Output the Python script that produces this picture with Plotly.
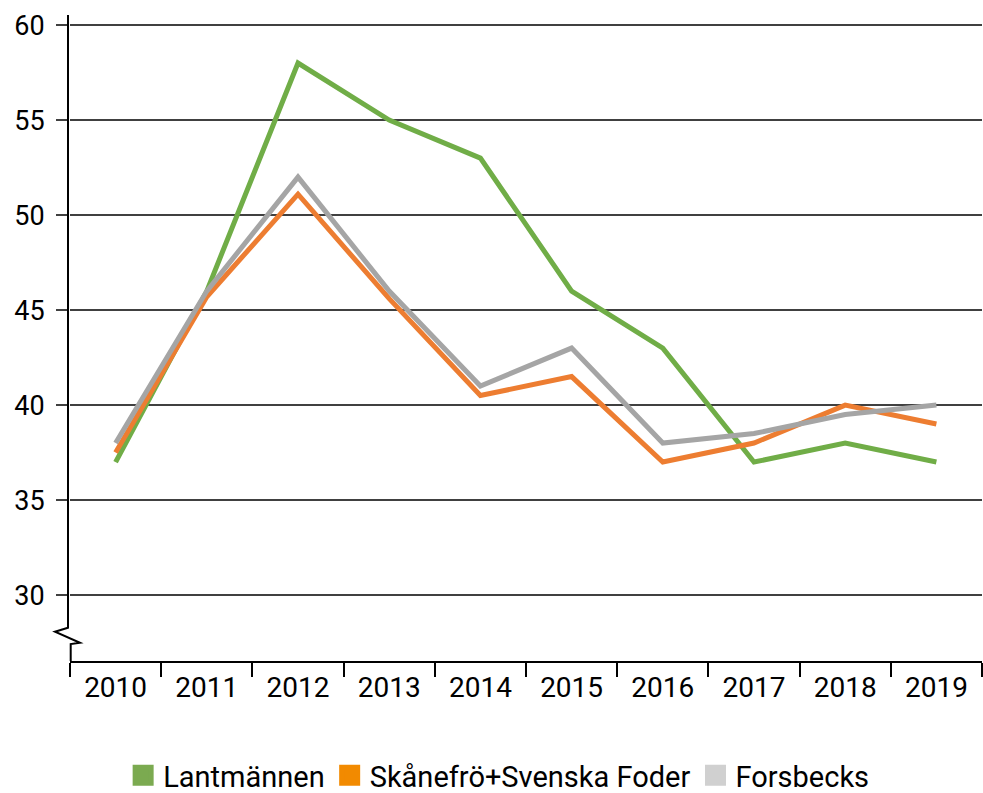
import plotly.graph_objects as go

years = ["2010", "2011", "2012", "2013", "2014", "2015", "2016", "2017", "2018", "2019"]
lantmannen = [37, 46, 58, 55, 53, 46, 43, 37, 38, 37]
skanefro = [37.5, 45.7, 51.1, 45.6, 40.5, 41.5, 37, 38, 40, 39]
forsbecks = [38, 46, 52, 46, 41, 43, 38, 38.5, 39.5, 40]
y_ticks = [30, 35, 40, 45, 50, 55, 60]

names = ["Lantmännen", "Skånefrö+Svenska Foder", "Forsbecks"]
line_colors = ["#70AD47", "#ED7D31", "#A5A5A5"]
legend_colors = ["#7BAA50", "#F28A00", "#D0D0D0"]
series = [lantmannen, skanefro, forsbecks]

FONT = "Roboto"
fig = go.Figure()
for name, vals, col in zip(names, series, line_colors):
    fig.add_trace(go.Scatter(x=years, y=vals, mode="lines", name=name,
                             line=dict(color=col, width=5), showlegend=False,
                             hoverinfo="x+y+name"))
for name, col in zip(names, legend_colors):
    fig.add_trace(go.Scatter(x=[None], y=[None], mode="markers", name=name,
                             marker=dict(symbol="square", size=16, color=col,
                                         line=dict(color=col, width=5))))

W, H = 983, 793
L, R, T, B = 70, 1, 15, 132
pw = W - L - R
ymin, ymax = 26.53, 60.53

def px_x(p):
    return (p - L) / pw

# y-axis line with break zigzag
path = (f"M {px_x(68)},{ymax} L {px_x(68)},28.28 L {px_x(55)},28.07 "
        f"L {px_x(80)},27.49 L {px_x(70.7)},27.42 L {px_x(70.7)},{ymin}")
fig.add_shape(type="path", path=path, xref="paper", yref="y",
              line=dict(color="#000000", width=2), layer="above")

fig.update_layout(
    width=W, height=H,
    margin=dict(l=L, r=R, t=T, b=B, autoexpand=False),
    paper_bgcolor="white", plot_bgcolor="white",
    font=dict(family=FONT, size=28, color="#000000"),
    showlegend=True,
    legend=dict(orientation="h", x=0.47, xanchor="center", y=-0.177, yanchor="middle",
                font=dict(family=FONT, size=29, color="#000000"),
                itemwidth=30, tracegroupgap=0, traceorder="normal"),
    xaxis=dict(type="category", range=[-0.5, 9.5], tickson="boundaries",
               ticks="outside", ticklen=14, tickwidth=2, tickcolor="#000000",
               showline=True, linecolor="#000000", linewidth=2,
               showgrid=False, zeroline=False, automargin=False,
               tickfont=dict(family=FONT, size=28, color="#000000")),
    yaxis=dict(range=[ymin, ymax], tickvals=y_ticks, ticktext=[str(v) for v in y_ticks],
               ticks="outside", ticklen=13, tickwidth=2, tickcolor="#404040",
               showgrid=True, gridcolor="#404040", gridwidth=2,
               showline=False, zeroline=False, automargin=False,
               ticklabelstandoff=6,
               tickfont=dict(family=FONT, size=27, color="#000000")),
)

fig.write_html("out.html", config={"displayModeBar": False},
               post_script="document.body.style.margin='0px';")
